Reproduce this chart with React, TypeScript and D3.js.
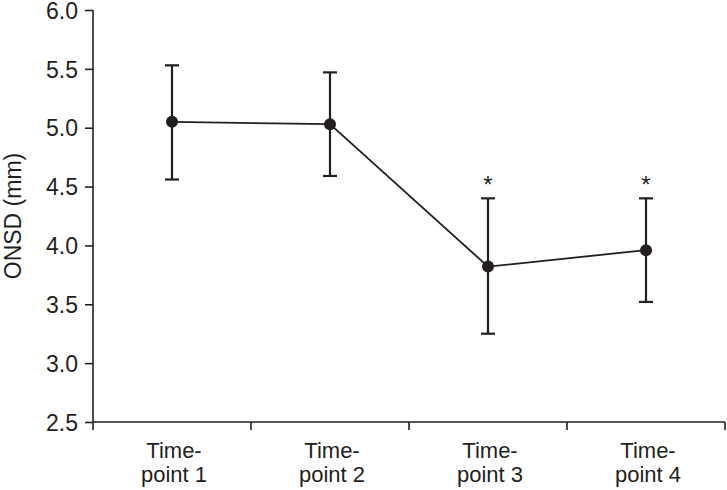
import { useEffect, useRef } from "react";
import * as d3 from "d3";

const categories = ["Time-point 1", "Time-point 2", "Time-point 3", "Time-point 4"];
const labelLines = [["Time-", "point 1"], ["Time-", "point 2"], ["Time-", "point 3"], ["Time-", "point 4"]];
const means = [5.05, 5.03, 3.82, 3.96];
const upper = [5.53, 5.47, 4.4, 4.4];
const lower = [4.56, 4.59, 3.25, 3.52];
const significant = [false, false, true, true];
const yTicks = [2.5, 3.0, 3.5, 4.0, 4.5, 5.0, 5.5, 6.0];

const INK = "#231f20";
const FONT = "Arial, 'Liberation Sans', Helvetica, sans-serif";

export default function App() {
  const svgRef = useRef<SVGSVGElement>(null);

  useEffect(() => {
    if (!svgRef.current) return;
    const svg = d3.select(svgRef.current);
    svg.selectAll("*").remove();

    const x = d3.scaleBand().domain(categories).range([93, 725]).padding(0);
    const y = d3.scaleLinear().domain([2.5, 6.0]).range([422, 10]);
    const cx = (c: string) => (x(c) as number) + x.bandwidth() / 2;

    // Y axis
    const yAxis = svg.append("g").attr("transform", "translate(93,0)")
      .call(d3.axisLeft(y).tickValues(yTicks).tickFormat(d3.format(".1f")).tickSize(8).tickSizeOuter(0));
    yAxis.select(".domain").remove();
    yAxis.selectAll("line").attr("stroke", INK).attr("stroke-width", 1.6);
    yAxis.selectAll("text").attr("fill", INK).attr("font-size", 23).attr("font-family", FONT)
      .attr("x", -15).attr("dy", "0.36em");
    svg.append("line").attr("x1", 93).attr("x2", 93).attr("y1", y(6.0)).attr("y2", 430)
      .attr("stroke", INK).attr("stroke-width", 1.6);

    // X axis
    svg.append("line").attr("x1", 93).attr("x2", 725).attr("y1", y(2.5)).attr("y2", y(2.5))
      .attr("stroke", INK).attr("stroke-width", 1.6);
    const bounds = categories.map(c => (x(c) as number) + x.bandwidth());
    svg.append("g").selectAll("line").data(bounds).enter().append("line")
      .attr("x1", d => d).attr("x2", d => d).attr("y1", y(2.5)).attr("y2", 430)
      .attr("stroke", INK).attr("stroke-width", 1.6);

    const catG = svg.append("g");
    categories.forEach((c, i) => {
      const t = catG.append("text").attr("text-anchor", "middle").attr("fill", INK)
        .attr("font-size", 22).attr("font-family", FONT);
      labelLines[i].forEach((ln, j) => {
        t.append("tspan").attr("x", cx(c) + 2).attr("y", 458 + j * 24).text(ln);
      });
    });

    // Y label
    svg.append("text")
      .attr("transform", `translate(21,${(y(6.0) + y(2.5)) / 2}) rotate(-90)`)
      .attr("text-anchor", "middle").attr("fill", INK)
      .attr("font-size", 23).attr("font-family", FONT)
      .text("ONSD (mm)");

    // Error bars
    const eb = svg.append("g").attr("stroke", INK).attr("stroke-width", 2.2);
    categories.forEach((c, i) => {
      const px = cx(c);
      eb.append("line").attr("x1", px).attr("x2", px).attr("y1", y(upper[i])).attr("y2", y(lower[i]));
      eb.append("line").attr("x1", px - 7).attr("x2", px + 7).attr("y1", y(upper[i])).attr("y2", y(upper[i]));
      eb.append("line").attr("x1", px - 7).attr("x2", px + 7).attr("y1", y(lower[i])).attr("y2", y(lower[i]));
    });

    // Mean line
    const line = d3.line<number>().x((_, i) => cx(categories[i])).y(d => y(d));
    svg.append("path").datum(means).attr("d", line)
      .attr("fill", "none").attr("stroke", INK).attr("stroke-width", 1.8);

    svg.append("g").selectAll("circle").data(means).enter().append("circle")
      .attr("cx", (_, i) => cx(categories[i])).attr("cy", d => y(d))
      .attr("r", 6).attr("fill", INK);

    // Significance markers
    svg.append("g").selectAll("text").data(categories.filter((_, i) => significant[i])).enter()
      .append("text")
      .attr("x", d => cx(d)).attr("y", d => y(upper[categories.indexOf(d)]) - 5)
      .attr("text-anchor", "middle").attr("fill", INK)
      .attr("font-size", 24).attr("font-family", FONT)
      .text("*");
  }, []);

  return (
    <svg ref={svgRef} width={727} height={490}
      style={{ position: "absolute", left: 0, top: 0, background: "#fff", display: "block" }} />
  );
}
